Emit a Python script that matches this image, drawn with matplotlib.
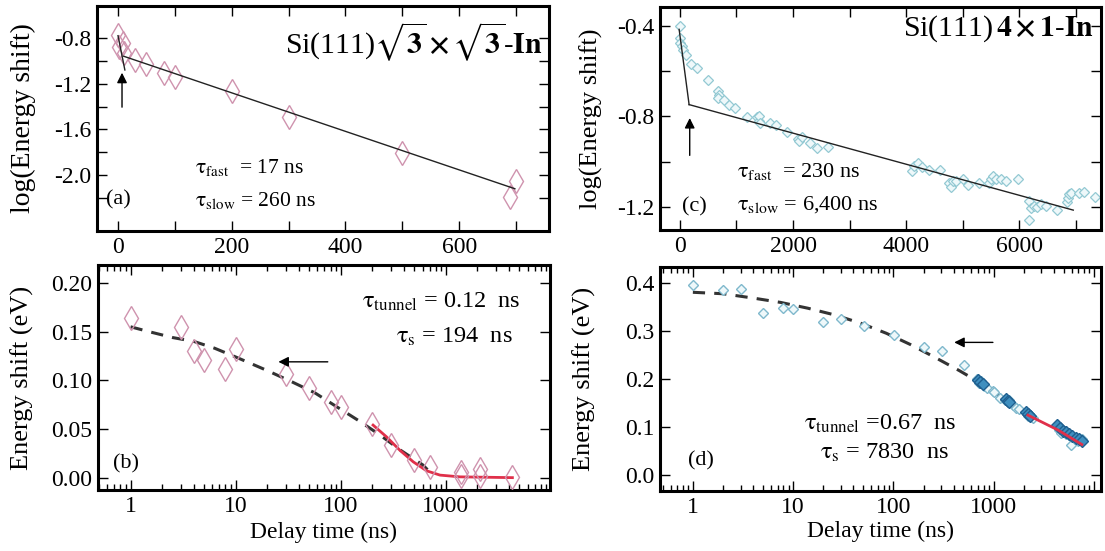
import numpy as np
import matplotlib
matplotlib.use("Agg")
import matplotlib.pyplot as plt
from matplotlib.ticker import MultipleLocator, LogLocator, NullFormatter, FixedLocator, FuncFormatter

plt.rcParams['font.family'] = ['Liberation Serif', 'DejaVu Serif']
plt.rcParams['mathtext.fontset'] = 'stix'
plt.rcParams['axes.unicode_minus'] = False

# ---- panel (a): Si(111) sqrt3 x sqrt3 - In, log(Energy shift) vs delay ----
a_t = [0, 2, 8, 10, 30, 50, 80, 100, 200, 300, 500, 690, 700]
a_y = [-0.77, -0.88, -0.84, -0.93, -0.99, -1.03, -1.11, -1.14, -1.26, -1.49, -1.81, -2.19, -2.05]
a_fast_t = [0, 12]
a_fast_y = [-0.78, -1.08]
a_slow_t = [10, 698]
a_slow_y = [-0.96, -2.12]

# ---- panel (b): energy shift vs delay (log x) ----
b_t = [1, 3, 4, 5, 8, 10, 30, 50, 80, 100, 200, 300, 500, 700, 1400, 1400, 2100, 2100, 4300]
b_y = [0.164, 0.155, 0.130, 0.121, 0.112, 0.132, 0.106, 0.092, 0.078, 0.073, 0.055, 0.034,
       0.018, 0.0105, 0.006, 0.0015, 0.009, 0.0015, 0.001]
b_dash_t = [1, 1.5, 2.5, 4, 6.3, 10, 20, 35, 57, 91, 146, 235, 373, 605, 700]
b_dash_y = [0.155, 0.150, 0.144, 0.140, 0.133, 0.124, 0.110, 0.098, 0.087, 0.073, 0.059,
            0.044, 0.028, 0.013, 0.006]
b_red_t = [203, 272, 364, 489, 656, 880, 1360, 4300]
b_red_y = [0.054, 0.042, 0.0283, 0.0163, 0.007, 0.0026, 0.0008, 0.0]

# ---- panel (c): Si(111) 4x1 - In, log(Energy shift) vs delay ----
c_t = [0, 0, 10, 30, 60, 105, 190, 295, 490, 670, 690, 670, 776, 864, 983, 1180, 1360, 1395,
       1400, 1420, 1590, 1700, 1900, 2090, 2110, 2160, 2300, 2420, 2620, 4104, 4145, 4204,
       4280, 4397, 4598, 4762, 4791, 4820, 4880, 4997, 5085, 5291, 5467, 5497, 5538, 5585,
       5673, 5761, 5979, 6161, 6173, 6202, 6261, 6302, 6379, 6467, 6655, 6837, 6849, 6878,
       6908, 7055, 7143, 7337]
c_y = [-0.40, -0.455, -0.475, -0.49, -0.505, -0.53, -0.57, -0.588, -0.64, -0.688, -0.706,
       -0.72, -0.727, -0.748, -0.763, -0.805, -0.805, -0.82, -0.80, -0.83, -0.83, -0.84,
       -0.868, -0.90, -0.91, -0.89, -0.92, -0.94, -0.935, -1.041, -1.018, -1.008, -1.022,
       -1.037, -1.037, -1.094, -1.112, -1.086, -1.086, -1.079, -1.106, -1.097, -1.094,
       -1.079, -1.064, -1.079, -1.079, -1.086, -1.079, -1.176, -1.258, -1.206, -1.195,
       -1.2, -1.19, -1.197, -1.215, -1.18, -1.163, -1.144, -1.14, -1.14, -1.134, -1.155]
c_fast_t = [-12, 164]
c_fast_y = [-0.415, -0.748]
c_slow_t = [164, 6950]
c_slow_y = [-0.748, -1.215]

# ---- panel (d): energy shift vs delay (log x) ----
d_t = [1, 2, 3, 5, 8, 10, 20, 30, 51, 101, 201, 305, 510, 690, 718, 746, 800, 860, 995, 1020,
       1170, 1310, 1360, 1410, 1550, 1670, 1800, 2140, 2220, 2300, 2490, 4370, 4540, 4750,
       5130, 5330, 5760, 5990, 6460, 6990, 7550]
d_y = [0.395, 0.384, 0.386, 0.338, 0.347, 0.345, 0.319, 0.324, 0.311, 0.292, 0.266, 0.259,
       0.230, 0.199, 0.192, 0.195, 0.185, 0.1815, 0.175, 0.172, 0.161, 0.157, 0.154, 0.157,
       0.147, 0.140, 0.137, 0.130, 0.123, 0.126, 0.119, 0.102, 0.095, 0.088, 0.092, 0.085,
       0.0815, 0.064, 0.0745, 0.071, 0.0745]
d_dark_t = [700, 740, 780, 1320, 1380, 1430, 2100, 2200, 2300, 4300, 4600, 4900, 5300, 5700,
            6100, 6600, 7200, 7700]
d_dark_y = [0.198, 0.193, 0.189, 0.158, 0.155, 0.152, 0.132, 0.127, 0.124, 0.104, 0.098,
            0.093, 0.089, 0.086, 0.082, 0.078, 0.075, 0.072]
d_dash_t = [1, 2, 4, 7.5, 14, 26, 47, 85, 150, 265, 450, 780, 1300, 1500]
d_dash_y = [0.380, 0.377, 0.368, 0.359, 0.347, 0.333, 0.316, 0.295, 0.271, 0.244, 0.218,
            0.189, 0.158, 0.150]
d_red_t = [2200, 4400, 7600]
d_red_y = [0.125, 0.094, 0.064]

pink = '#cf93ae'
teal = '#93c9d3'
red = '#e0304a'
dash_col = '#333333'

fig = plt.figure(figsize=(11.05, 5.51), dpi=100)
W, H = 1105, 551


def add_ax(l, t, r, b):
    return fig.add_axes([l / W, 1 - b / H, (r - l) / W, (b - t) / H])


ax_a = add_ax(97, 6, 549, 231)
ax_b = add_ax(98, 265, 550, 490)
ax_c = add_ax(660, 7, 1101, 230)
ax_d = add_ax(660, 267, 1101, 491)

tick_fs = 17
for ax in (ax_a, ax_b, ax_c, ax_d):
    for sp in ax.spines.values():
        sp.set_linewidth(2.2)
    ax.tick_params(which='both', direction='in', top=True, right=True, labelsize=tick_fs,
                   width=1.0, pad=4)
    ax.tick_params(which='major', length=7)
    ax.tick_params(which='minor', length=7)


def log_fmt(v, p):
    return '%d' % v if v < 5000 else ''


# panel (a)
ax_a.plot(a_t, a_y, ls='none', marker='d', ms=12, mfc='none', mec=pink, mew=1.0)
ax_a.plot(a_fast_t, a_fast_y, color='#222222', lw=1.0)
ax_a.plot(a_slow_t, a_slow_y, color='#222222', lw=1.0)
ax_a.annotate('', xy=(7, -1.08), xytext=(7, -1.43),
              arrowprops=dict(arrowstyle='-|>', color='black', lw=1.0, mutation_scale=15))
ax_a.set_xlim(-37, 758)
ax_a.set_ylim(-2.49, -0.52)
ax_a.xaxis.set_major_locator(MultipleLocator(200))
ax_a.xaxis.set_minor_locator(MultipleLocator(100))
ax_a.yaxis.set_major_locator(FixedLocator([-0.8, -1.2, -1.6, -2.0]))
ax_a.yaxis.set_minor_locator(FixedLocator([-1.0, -1.4, -1.8, -2.2]))
ax_a.set_ylabel('log(Energy shift)', fontsize=20)
ax_a.yaxis.set_label_coords(-0.135, 0.5)
ax_a.text(0.985, 0.84,
          r'Si(111)$\sqrt{\mathbf{3}}\,\boldsymbol{\times}\,\sqrt{\mathbf{3}}\text{-}\mathbf{In}$',
          transform=ax_a.transAxes, ha='right', va='center', fontsize=21.5)
ax_a.text(135, -1.93, r'$\mathrm{\tau}_{\rm fast}$  = 17 ns', fontsize=15.5, va='center')
ax_a.text(135, -2.22, r'$\mathrm{\tau}_{\rm slow}$ = 260 ns', fontsize=15.5, va='center')
ax_a.text(0, -2.22, '(a)', fontsize=16, va='center', ha='center')

# panel (c)
ax_c.plot(c_t, c_y, ls='none', marker='D', ms=5, mfc='#eef8fa', mec=teal, mew=0.9)
ax_c.plot(c_fast_t, c_fast_y, color='#222222', lw=1.0)
ax_c.plot(c_slow_t, c_slow_y, color='#222222', lw=1.0)
ax_c.annotate('', xy=(175, -0.795), xytext=(175, -0.985),
              arrowprops=dict(arrowstyle='-|>', color='black', lw=1.0, mutation_scale=15))
ax_c.set_xlim(-350, 7440)
ax_c.set_ylim(-1.303, -0.316)
ax_c.xaxis.set_major_locator(MultipleLocator(2000))
ax_c.xaxis.set_minor_locator(MultipleLocator(1000))
ax_c.yaxis.set_major_locator(MultipleLocator(0.4))
ax_c.yaxis.set_minor_locator(MultipleLocator(0.2))
ax_c.set_ylabel('log(Energy shift)', fontsize=19)
ax_c.yaxis.set_label_coords(-0.129, 0.5)
ax_c.text(0.985, 0.905, r'Si(111)$\,\mathbf{4}\,\boldsymbol{\times}\,\mathbf{1}\text{-}\mathbf{In}$',
          transform=ax_c.transAxes, ha='right', va='center', fontsize=21.5)
ax_c.text(1005, -1.045, r'$\mathrm{\tau}_{\rm fast}$  = 230 ns', fontsize=16, va='center')
ax_c.text(1005, -1.19, r'$\mathrm{\tau}_{\rm slow}$ = 6,400 ns', fontsize=16, va='center')
ax_c.text(250, -1.2, '(c)', fontsize=16, va='center', ha='center')

# panel (b)
ax_b.set_xscale('log')
ax_b.plot(b_t, b_y, ls='none', marker='d', ms=12, mfc='none', mec=pink, mew=1.0, zorder=3)
ax_b.plot(b_dash_t, b_dash_y, color=dash_col, lw=2.2, dashes=(4, 3), zorder=2)
ax_b.plot(b_red_t, b_red_y, color=red, lw=2.0, zorder=2)
ax_b.annotate('', xy=(24, 0.119), xytext=(80, 0.119),
              arrowprops=dict(arrowstyle='-|>', color='black', lw=1.0, mutation_scale=15))
ax_b.set_xlim(0.49, 9800)
ax_b.set_ylim(-0.0127, 0.2185)
ax_b.yaxis.set_major_locator(MultipleLocator(0.05))
ax_b.yaxis.set_major_formatter(matplotlib.ticker.FormatStrFormatter('%.2f'))
ax_b.xaxis.set_major_locator(LogLocator(base=10, numticks=10))
ax_b.xaxis.set_minor_locator(LogLocator(base=10, subs=np.arange(2, 10), numticks=10))
ax_b.xaxis.set_minor_formatter(NullFormatter())
ax_b.xaxis.set_major_formatter(FuncFormatter(log_fmt))
ax_b.tick_params(axis='x', which='minor', length=4)
ax_b.set_xlabel('Delay time (ns)', fontsize=17, labelpad=4)
ax_b.set_ylabel('Energy shift (eV)', fontsize=19)
ax_b.yaxis.set_label_coords(-0.142, 0.5)
ax_b.text(0.934, 0.836, r'$\mathrm{\tau}_{\rm tunnel}$ = 0.12  ns', transform=ax_b.transAxes,
          ha='right', va='center', fontsize=17.5)
ax_b.text(0.917, 0.68, r'$\mathrm{\tau}_{\rm s}$ = 194  ns', transform=ax_b.transAxes,
          ha='right', va='center', fontsize=17.5)
ax_b.text(0.9, 0.014, '(b)', fontsize=16, va='center', ha='center')

# panel (d)
ax_d.set_xscale('log')
ax_d.plot(d_t, d_y, ls='none', marker='D', ms=5.5, mfc='#eef8fa', mec='#7fb8cc', mew=1.0, zorder=3)
ax_d.plot(d_dark_t, d_dark_y, ls='none', marker='D', ms=6, mfc='#3f8fbf', mec='#1f5f8f',
          mew=1.0, zorder=3)
ax_d.plot(d_dash_t, d_dash_y, color=dash_col, lw=2.2, dashes=(4, 3), zorder=2)
ax_d.plot(d_red_t, d_red_y, color=red, lw=2.0, zorder=4)
ax_d.annotate('', xy=(380, 0.276), xytext=(1050, 0.276),
              arrowprops=dict(arrowstyle='-|>', color='black', lw=1.0, mutation_scale=15))
ax_d.set_xlim(0.47, 11800)
ax_d.set_ylim(-0.0325, 0.4325)
ax_d.yaxis.set_major_locator(MultipleLocator(0.1))
ax_d.yaxis.set_major_formatter(matplotlib.ticker.FormatStrFormatter('%.1f'))
ax_d.xaxis.set_major_locator(LogLocator(base=10, numticks=10))
ax_d.xaxis.set_minor_locator(LogLocator(base=10, subs=np.arange(2, 10), numticks=10))
ax_d.xaxis.set_minor_formatter(NullFormatter())
ax_d.xaxis.set_major_formatter(FuncFormatter(log_fmt))
ax_d.tick_params(axis='x', which='minor', length=4)
ax_d.set_xlabel('Delay time (ns)', fontsize=17, labelpad=2)
ax_d.set_ylabel('Energy shift (eV)', fontsize=19)
ax_d.yaxis.set_label_coords(-0.145, 0.5)
ax_d.text(0.5, 0.30, r'$\mathrm{\tau}_{\rm tunnel}$ =0.67  ns', transform=ax_d.transAxes,
          ha='center', va='center', fontsize=17.5)
ax_d.text(0.51, 0.17, r'$\mathrm{\tau}_{\rm s}$ = 7830  ns', transform=ax_d.transAxes,
          ha='center', va='center', fontsize=17.5)
ax_d.text(1.2, 0.03, '(d)', fontsize=16, va='center', ha='center')

fig.savefig('out.png', dpi=100)
